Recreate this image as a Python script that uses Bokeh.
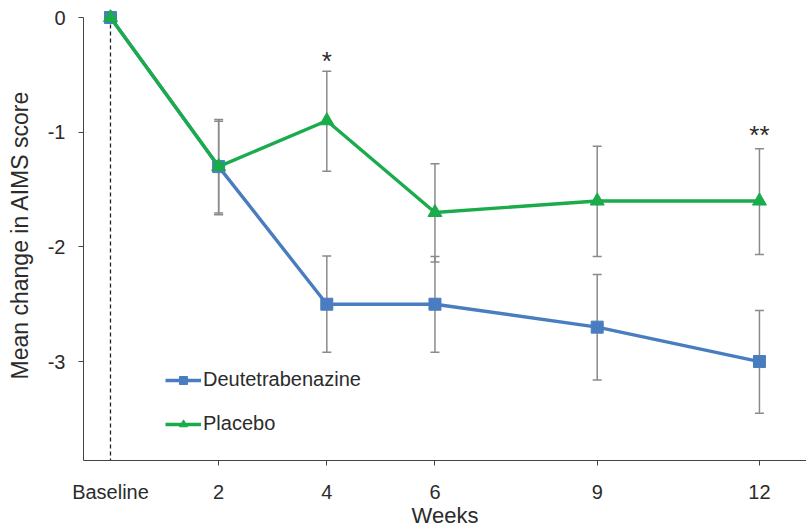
from bokeh.plotting import figure
from bokeh.models import (ColumnDataSource, FixedTicker, Legend, LegendItem,
                          Range1d)
from bokeh.core.properties import value
from bokeh.embed import file_html
from bokeh.resources import INLINE

nan = float("nan")

# ---- data ----
weeks = [0, 2, 4, 6, 9, 12]
tick_labels = ["Baseline", "2", "4", "6", "9", "12"]

deut_mean = [0.0, -1.30, -2.50, -2.50, -2.70, -3.00]
deut_upper = [nan, -0.89, -2.08, -2.085, -2.24, -2.555]
deut_lower = [nan, -1.72, -2.92, -2.92, -3.16, -3.45]

plac_mean = [0.0, -1.30, -0.90, -1.70, -1.60, -1.60]
plac_upper = [nan, -0.905, -0.468, -1.276, -1.122, -1.145]
plac_lower = [nan, -1.705, -1.34, -2.133, -2.084, -2.067]

sig_weeks = [4, 12]
sig_y = [-0.33, -0.97]
sig_labels = ["*", "**"]

y_ticks = [0, -1, -2, -3]
y_tick_labels = ["0", "-1", "-2", "-3"]

BLUE = "#4a7dbf"
GREEN = "#1aab4b"
GRAY = "#8a8a8a"
TXT = "#2b2b2b"
AXC = "#444444"
FONT = "Liberation Sans"

x_start, x_end = -0.499, 12.87
y_start, y_end = -3.863, 0.07

p = figure(width=806, height=530, output_backend="svg", toolbar_location=None,
           x_range=Range1d(x_start, x_end), y_range=Range1d(y_start, y_end),
           min_border_left=83, min_border_right=0, min_border_top=9,
           min_border_bottom=60)
p.outline_line_color = None
p.xgrid.grid_line_color = None
p.ygrid.grid_line_color = None
p.background_fill_color = "white"

# x axis: labels at every week, tick marks (as minor ticks) except at baseline
ax = p.xaxis[0]
ax.ticker = FixedTicker(ticks=weeks, minor_ticks=weeks[1:])
ax.major_label_overrides = {w: t for w, t in zip(weeks, tick_labels)}
ax.axis_line_color = AXC
ax.axis_line_width = 1
ax.major_tick_line_color = None
ax.major_tick_out = 0
ax.major_tick_in = 0
ax.minor_tick_line_color = AXC
ax.minor_tick_line_width = 1
ax.minor_tick_out = 5
ax.minor_tick_in = 0
ax.major_label_standoff = 15
ax.major_label_text_font = FONT
ax.major_label_text_font_size = "20px"
ax.major_label_text_color = TXT
ax.axis_label = "Weeks"
ax.axis_label_text_font = FONT
ax.axis_label_text_font_size = "22px"
ax.axis_label_text_font_style = "normal"
ax.axis_label_text_color = TXT
ax.axis_label_standoff = -3

ay = p.yaxis[0]
ay.ticker = FixedTicker(ticks=y_ticks)
ay.major_label_overrides = {t: s for t, s in zip(y_ticks, y_tick_labels)}
ay.bounds = (y_start, 0)
ay.axis_line_color = AXC
ay.major_tick_line_color = AXC
ay.major_tick_out = 5
ay.major_tick_in = 0
ay.minor_tick_line_color = None
ay.major_label_standoff = 13
ay.major_label_text_font = FONT
ay.major_label_text_font_size = "20px"
ay.major_label_text_color = TXT
ay.axis_label = "Mean change in AIMS score"
ay.axis_label_text_font = FONT
ay.axis_label_text_font_size = "23px"
ay.axis_label_text_font_style = "normal"
ay.axis_label_text_color = TXT
ay.axis_label_standoff = 12

# baseline dashed reference line
p.segment(x0=[weeks[0]], y0=[deut_mean[0]], x1=[weeks[0]], y1=[y_start],
          line_color="#222222", line_width=1.3, line_dash="4 3")

# error bars
for up, lo in ((deut_upper, deut_lower), (plac_upper, plac_lower)):
    src = ColumnDataSource(dict(x=weeks[1:], up=up[1:], lo=lo[1:]))
    p.segment(x0="x", y0="lo", x1="x", y1="up", source=src,
              line_color=GRAY, line_width=1.5)
    p.scatter(x="x", y="up", source=src, marker="dash", size=9,
              line_color=GRAY, line_width=1.5)
    p.scatter(x="x", y="lo", source=src, marker="dash", size=9,
              line_color=GRAY, line_width=1.5)

# series
dsrc = ColumnDataSource(dict(x=weeks, y=deut_mean))
psrc = ColumnDataSource(dict(x=weeks, y=plac_mean))
dl = p.line("x", "y", source=dsrc, line_color=BLUE, line_width=3.4)
ds = p.scatter("x", "y", source=dsrc, marker="square", size=12,
               fill_color=BLUE, line_color=BLUE, line_width=1)
pl = p.line("x", "y", source=psrc, line_color=GREEN, line_width=3.4)
ps = p.scatter("x", "y", source=psrc, marker="triangle", size=14,
               fill_color=GREEN, line_color=GREEN, line_width=1)

# significance marks
p.text(x=sig_weeks, y=sig_y, text=sig_labels, text_font=value(FONT),
       text_font_size="26px", text_color=TXT, text_align="center",
       text_baseline="middle", y_offset=6)

legend = Legend(items=[LegendItem(label="Deutetrabenazine", renderers=[dl, ds]),
                       LegendItem(label="Placebo", renderers=[pl, ps])],
                location=(82, 25), orientation="vertical")
legend.border_line_color = None
legend.background_fill_alpha = 0
legend.padding = 0
legend.margin = 0
legend.spacing = 21
legend.glyph_width = 36
legend.glyph_height = 20
legend.label_height = 20
legend.label_standoff = 2
legend.label_text_font = FONT
legend.label_text_font_size = "20px"
legend.label_text_color = TXT
p.add_layout(legend, "center")

open("out.html", "w").write(file_html(p, INLINE))
